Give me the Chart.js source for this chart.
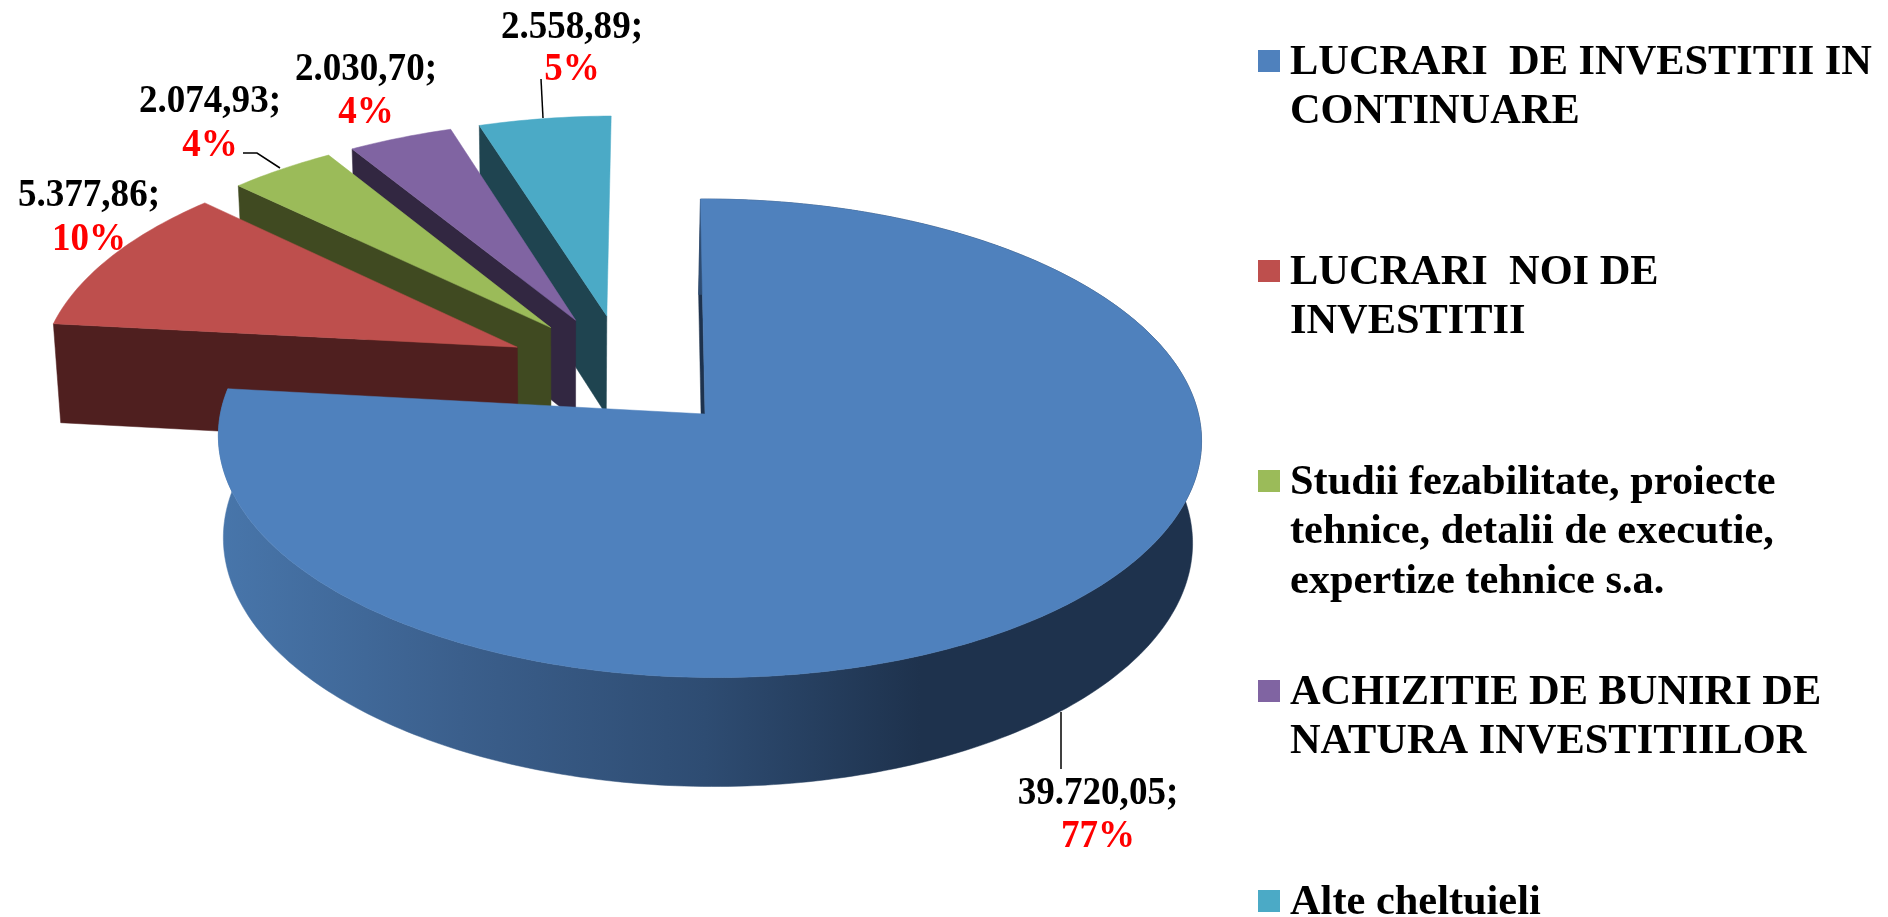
<!DOCTYPE html>
<html lang="ro">
<head>
    <meta charset="UTF-8">
    <title>Structura cheltuielilor de investitii</title>
    <script src="https://cdn.jsdelivr.net/npm/chart.js@4"></script>
    <style>
        html, body {
            margin: 0;
            padding: 0;
            background: #fff;
            overflow: hidden;
        }
        #chartBox {
            width: 1888px;
            height: 917px;
        }
    </style>
</head>
<body>
    <div id="chartBox"><canvas id="pieChart" width="1888" height="917"></canvas></div>

    <script>
        // Date
        const categories = [
            ['LUCRARI  DE INVESTITII IN', 'CONTINUARE'],
            ['LUCRARI  NOI DE', 'INVESTITII'],
            ['Studii fezabilitate, proiecte', 'tehnice, detalii de executie,', 'expertize tehnice s.a.'],
            ['ACHIZITIE DE BUNIRI DE', 'NATURA INVESTITIILOR'],
            ['Alte cheltuieli']
        ];
        const values = [39720.05, 5377.86, 2074.93, 2030.70, 2558.89];
        const sliceColors = ['#4f81bd', '#be4f4d', '#9bbb59', '#8064a2', '#4baac6'];
        const wallColors = ['#1e324d', '#4f1f1f', '#404a21', '#322741', '#1f4450'];

        // Pozitia etichetelor: centru, linia valorii, linia procentului
        const labelSpots = [
            { x: 1098, y1: 804, y2: 847 },
            { x: 89, y1: 205.5, y2: 249.5 },
            { x: 210, y1: 112, y2: 155.5 },
            { x: 366, y1: 79.5, y2: 122.5 },
            { x: 572, y1: 37.5, y2: 79.5 }
        ];
        const leaderLines = [
            [[1061, 712], [1061, 769]],
            [],
            [[243, 153], [257, 153], [280, 168]],
            [],
            [[541, 79], [543, 118]]
        ];

        // Proiectia 3D a discului pe ecran
        const view = { ox: 705, oy: 414, a: 489, b: 236.8, shear: 5, tiltV: 0.1014, tiltU: 0.009 };
        const explode = 0.25;
        const smallSliceRadius = 1.012;
        const wall = { depth: 99, depthSlope: 0.0282, depthRef: 323, shrink: 0.9858, vanishX: 570 };

        const legendBox = { x: 1258, size: 22, textX: 1290, firstLine: 73.5, step: 210, lineHeight: 49.5 };

        function project(u, v) {
            const w = 1 - view.tiltV * v - view.tiltU * u;
            return {
                x: view.ox + (view.a * u + view.shear * v) / w,
                y: view.oy + view.b * v / w
            };
        }

        function lower(p) {
            return {
                x: wall.vanishX + (p.x - wall.vanishX) * wall.shrink,
                y: p.y + wall.depth + wall.depthSlope * (p.y - wall.depthRef)
            };
        }

        function fillPoly(ctx, points, color) {
            ctx.beginPath();
            points.forEach((p, i) => i ? ctx.lineTo(p.x, p.y) : ctx.moveTo(p.x, p.y));
            ctx.closePath();
            ctx.fillStyle = color;
            ctx.fill();
            // Fara linii albe intre fete
            ctx.strokeStyle = color;
            ctx.lineWidth = 0.5;
            ctx.stroke();
        }

        function drawSlice(ctx, arc, index, originShift) {
            const mid = (arc.startAngle + arc.endAngle) / 2;
            const cu = explode * Math.cos(mid) - originShift.u;
            const cv = explode * Math.sin(mid) - originShift.v;
            const radius = index === 0 ? 1 : smallSliceRadius;
            const steps = Math.max(12, Math.round((arc.endAngle - arc.startAngle) * 60));
            const rim = [];
            for (let i = 0; i <= steps; i++) {
                const t = arc.startAngle + (arc.endAngle - arc.startAngle) * i / steps;
                rim.push(project(cu + radius * Math.cos(t), cv + radius * Math.sin(t)));
            }
            const apex = project(cu, cv);
            const first = rim[0];

            fillPoly(ctx, [apex, first, lower(first), lower(apex)], wallColors[index]);

            // Doar felia mare isi arata marginea rotunda
            if (index === 0) {
                const grad = ctx.createLinearGradient(view.ox - view.a, 0, view.ox + view.a, 0);
                grad.addColorStop(0, '#4876ab');
                grad.addColorStop(0.25, '#3b5f8c');
                grad.addColorStop(0.5, '#2e4c72');
                grad.addColorStop(0.72, '#1e324d');
                grad.addColorStop(1, '#1e324d');
                fillPoly(ctx, rim.concat(rim.map(lower).reverse()), grad);
            }

            fillPoly(ctx, [apex].concat(rim), sliceColors[index]);
        }

        // Textul din original e putin mai ingust decat fontul
        function narrowText(ctx, text, x, y) {
            ctx.save();
            ctx.translate(x, y);
            ctx.scale(0.95, 1);
            ctx.fillText(text, 0, 0);
            ctx.restore();
        }

        function drawDataLabels(ctx) {
            const total = values.reduce((a, b) => a + b, 0);
            ctx.textAlign = 'center';
            ctx.textBaseline = 'alphabetic';
            ctx.font = 'bold 39px "Liberation Serif"';
            values.forEach((value, i) => {
                const text = value.toLocaleString('de-DE', { minimumFractionDigits: 2, maximumFractionDigits: 2 }) + ';';
                ctx.fillStyle = '#000';
                narrowText(ctx, text, labelSpots[i].x, labelSpots[i].y1);
                ctx.fillStyle = '#ff0000';
                narrowText(ctx, Math.round(value / total * 100) + '%', labelSpots[i].x, labelSpots[i].y2);

                if (leaderLines[i].length) {
                    ctx.beginPath();
                    leaderLines[i].forEach((p, j) => j ? ctx.lineTo(p[0], p[1]) : ctx.moveTo(p[0], p[1]));
                    ctx.strokeStyle = '#000';
                    ctx.lineWidth = 1.5;
                    ctx.stroke();
                }
            });
        }

        function drawLegend(ctx, labels) {
            ctx.textAlign = 'left';
            ctx.textBaseline = 'alphabetic';
            ctx.font = 'bold 42.4px "Liberation Serif"';
            labels.forEach((lines, i) => {
                const base = legendBox.firstLine + i * legendBox.step;
                ctx.fillStyle = sliceColors[i];
                ctx.fillRect(legendBox.x, Math.round(base - 23.5), legendBox.size, legendBox.size);
                ctx.fillStyle = '#000';
                lines.forEach((line, j) => {
                    ctx.fillText(line, legendBox.textX, base + j * legendBox.lineHeight);
                });
            });
        }

        // Chart.js calculeaza unghiurile; pluginul le deseneaza in perspectiva
        const pie3d = {
            id: 'pie3d',
            beforeDatasetsDraw(chart) {
                const ctx = chart.ctx;
                const arcs = chart.getDatasetMeta(0).data;
                const mid0 = (arcs[0].startAngle + arcs[0].endAngle) / 2;
                const originShift = { u: explode * Math.cos(mid0), v: explode * Math.sin(mid0) };

                ctx.save();
                // din spate in fata: ultima felie prima, felia mare la sfarsit
                for (let i = arcs.length - 1; i >= 0; i--) {
                    drawSlice(ctx, arcs[i], i, originShift);
                }
                drawDataLabels(ctx);
                drawLegend(ctx, chart.data.labels);
                ctx.restore();
                return false;
            }
        };

        new Chart(document.getElementById('pieChart').getContext('2d'), {
            type: 'pie',
            data: {
                labels: categories,
                datasets: [{
                    data: values,
                    backgroundColor: sliceColors,
                    borderWidth: 0
                }]
            },
            options: {
                responsive: false,
                animation: false,
                plugins: {
                    legend: { display: false },
                    tooltip: { enabled: false }
                }
            },
            plugins: [pie3d]
        });
    </script>
</body>
</html>
